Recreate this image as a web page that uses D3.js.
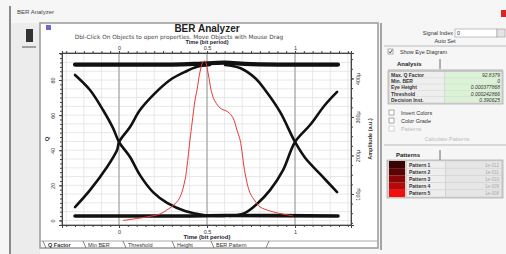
<!DOCTYPE html>
<html>
<head>
<meta charset="utf-8">
<script src="https://cdn.jsdelivr.net/npm/d3@7"></script>
<style>
  body { margin: 0; background: #f4f4f4; }
  svg text { font-family: "Liberation Sans", Arial, sans-serif; }
</style>
</head>
<body>
<svg id="chart" width="506" height="254"></svg>
<script>
// time axis
const timeTicks = [0, 0.5, 1]
const timeLabels = ['0', '0.5', '1']
// left axis (Q) and right axis (amplitude, in micro units)
const qTicks = [0, 20, 40, 60, 80]
const ampTicks = [100, 200, 300, 400]
const ampLabels = ['100µ', '200µ', '300µ', '400µ']

// Q factor vs time (red curve)
const qTime = [0.023, 0.159, 0.233, 0.273, 0.318, 0.347, 0.375, 0.386, 0.403, 0.415, 0.432, 0.443, 0.46, 0.477, 0.489, 0.506, 0.534, 0.574, 0.619, 0.648, 0.67, 0.688, 0.716, 0.744, 0.773, 0.801, 0.858, 0.898, 0.989]
const qValue = [0, 2.0, 3.7, 6.0, 9.4, 13.4, 23.1, 30.5, 45.8, 55.5, 68.6, 74.3, 84.6, 90.3, 90.8, 84.0, 70.3, 64.1, 61.8, 58.4, 51.5, 45.8, 27.0, 15.7, 11.1, 7.7, 5.4, 4.3, 2.6]

// eye diagram traces [time, amplitude µ]
const railTop = [[-0.25, 436], [0.3, 436], [0.45, 438], [0.6, 441], [0.75, 437], [1.244, 436]]
const railBottom = [[-0.25, 43], [0.4, 43], [0.6, 44], [1.244, 43]]
const fallA = [[-0.25, 409], [-0.165, 370], [-0.091, 318], [-0.034, 271], [0, 235], [0.0625, 196], [0.119, 149], [0.193, 105], [0.273, 77], [0.375, 56], [0.489, 45], [0.602, 43]]
const riseA = [[-0.25, 66], [-0.165, 110], [-0.068, 170], [-0.011, 214], [0, 235], [0.0625, 274], [0.119, 318], [0.205, 362], [0.29, 396], [0.375, 417], [0.443, 430], [0.517, 435]]
const fallB = [[0.602, 435], [0.6875, 427], [0.773, 401], [0.83, 370], [0.915, 313], [1, 235], [1.057, 194], [1.142, 152], [1.239, 105]]
const riseB = [[0.631, 43], [0.716, 51], [0.784, 74], [0.858, 110], [0.932, 162], [1, 235], [1.085, 279], [1.17, 331], [1.239, 365]]

// side panel content
const analysisLabels = ['Max. Q Factor', 'Min. BER', 'Eye Height', 'Threshold', 'Decision Inst.']
const analysisValues = ['92.8379', '0', '0.000377868', '0.000242866', '0.390625']
const optionLabels = ['Invert Colors', 'Color Grade', 'Patterns']
const patternNames = ['Pattern 1', 'Pattern 2', 'Pattern 3', 'Pattern 4', 'Pattern 5']
const patternBer = ['1e-012', '1e-011', '1e-010', '1e-009', '1e-008']
const tabNames = ['Q Factor', 'Min BER', 'Threshold', 'Height', 'BER Pattern']

const patternColors = ['#3a0303', '#5c0404', '#870606', '#b80808', '#f50c0c']

const svg = d3.select('#chart')

// ---------- window frame ----------
svg.append('rect').attr('x', 0).attr('y', 0).attr('width', 506).attr('height', 254).attr('fill', '#f6f6f6')
svg.append('rect').attr('x', 11).attr('y', 23).attr('width', 29).attr('height', 231).attr('fill', '#ececec')
svg.append('line').attr('x1', 10).attr('x2', 10).attr('y1', 6).attr('y2', 254).attr('stroke', '#666').attr('stroke-width', 1.5)
svg.append('text').attr('x', 17).attr('y', 14).attr('font-size', 6).attr('fill', '#444').text('BER Analyzer')
svg.append('rect').attr('x', 501).attr('y', 10).attr('width', 5).attr('height', 7).attr('fill', '#d22')

// icon on the left column
svg.append('rect').attr('x', 26).attr('y', 29).attr('width', 7).attr('height', 13).attr('fill', '#333')
svg.append('line').attr('x1', 22).attr('x2', 36).attr('y1', 47).attr('y2', 47).attr('stroke', '#555')

// graph panel
svg.append('rect').attr('x', 40).attr('y', 23).attr('width', 338).attr('height', 225).attr('fill', '#fff')
  .attr('stroke', '#999').attr('stroke-width', 1.5)
svg.append('rect').attr('x', 46).attr('y', 25).attr('width', 5).attr('height', 5).attr('fill', '#6a6ad0')
svg.append('line').attr('x1', 381).attr('x2', 381).attr('y1', 23).attr('y2', 250).attr('stroke', '#888').attr('stroke-width', 1.5)

// ---------- scales ----------
const x = d3.scaleLinear().domain([-0.324, 1.318]).range([62, 351])
const yQ = d3.scaleLinear().domain([-2.6, 95.4]).range([225, 53])
const yA = d3.scaleLinear().domain([19.5, 466]).range([225, 53])

const plot = svg.append('g')
plot.append('rect').attr('x', 62).attr('y', 53).attr('width', 289).attr('height', 172).attr('fill', '#fff')

// grid
plot.append('g').selectAll('line').data(d3.range(-0.3, 1.31, 0.1)).join('line')
  .attr('x1', d => x(d)).attr('x2', d => x(d)).attr('y1', 53).attr('y2', 225)
  .attr('stroke', '#e2e2e2').attr('stroke-width', 0.8)
plot.append('g').selectAll('line').data(d3.range(0, 95.5, 5)).join('line')
  .attr('y1', d => yQ(d)).attr('y2', d => yQ(d)).attr('x1', 62).attr('x2', 351)
  .attr('stroke', '#e2e2e2').attr('stroke-width', 0.8)
plot.append('g').selectAll('line').data(timeTicks).join('line')
  .attr('x1', d => x(d)).attr('x2', d => x(d)).attr('y1', 53).attr('y2', 225)
  .attr('stroke', '#8a8a8a').attr('stroke-width', 0.9)

// axes
const minorT = d3.range(-0.3, 1.31, 0.05)
const axisStyle = g => {
  g.selectAll('.domain').attr('stroke', '#444')
  g.selectAll('.tick line').attr('stroke', '#444')
  g.selectAll('text').attr('font-size', 5.5).attr('fill', '#333')
}
svg.append('g').attr('transform', 'translate(0,225)')
  .call(d3.axisBottom(x).tickValues(minorT).tickSize(2).tickFormat('').tickSizeOuter(0)).call(axisStyle)
svg.append('g').attr('transform', 'translate(0,53)')
  .call(d3.axisTop(x).tickValues(minorT).tickSize(2).tickFormat('').tickSizeOuter(0)).call(axisStyle)
svg.append('g').attr('transform', 'translate(0,225)')
  .call(d3.axisBottom(x).tickValues(timeTicks).tickSize(3).tickPadding(2).tickFormat((d, i) => timeLabels[i])).call(axisStyle)
svg.append('g').attr('transform', 'translate(0,53)')
  .call(d3.axisTop(x).tickValues(timeTicks).tickSize(2).tickPadding(1).tickFormat((d, i) => timeLabels[i])).call(axisStyle)

svg.append('g').attr('transform', 'translate(62,0)')
  .call(d3.axisLeft(yQ).tickValues(d3.range(-2.5, 95.4, 2.5)).tickSize(2).tickFormat('').tickSizeOuter(0)).call(axisStyle)
svg.append('g').attr('transform', 'translate(62,0)')
  .call(d3.axisLeft(yQ).tickValues(qTicks).tickSize(3).tickPadding(3)).call(axisStyle)
  .selectAll('text')
  .each(function () {
    d3.select(this).attr('x', null).attr('dy', null).attr('text-anchor', 'middle')
      .attr('transform', 'translate(-7,0) rotate(-90)')
  })

svg.append('g').attr('transform', 'translate(351,0)')
  .call(d3.axisRight(yA).tickValues(d3.range(25, 466, 25)).tickSize(2).tickFormat('').tickSizeOuter(0)).call(axisStyle)
svg.append('g').attr('transform', 'translate(351,0)')
  .call(d3.axisRight(yA).tickValues(ampTicks).tickSize(3).tickFormat((d, i) => ampLabels[i])).call(axisStyle)
  .selectAll('text')
  .each(function () {
    d3.select(this).attr('x', null).attr('dy', null).attr('text-anchor', 'middle')
      .attr('transform', 'translate(9,0) rotate(-90)')
  })

// titles
svg.append('text').attr('x', 207).attr('y', 32).attr('text-anchor', 'middle')
  .attr('font-size', 10).attr('font-weight', 'bold').attr('fill', '#222').text('BER Analyzer')
svg.append('text').attr('x', 179).attr('y', 38.5).attr('text-anchor', 'middle')
  .attr('font-size', 5.8).attr('fill', '#444').style('font-family', '"DejaVu Sans", sans-serif')
  .text('Dbl-Click On Objects to open properties.  Move Objects with Mouse Drag')
svg.append('text').attr('x', 207).attr('y', 44).attr('text-anchor', 'middle')
  .attr('font-size', 5.5).attr('font-weight', 'bold').attr('fill', '#223').text('Time (bit period)')
svg.append('text').attr('x', 207).attr('y', 239).attr('text-anchor', 'middle')
  .attr('font-size', 6).attr('font-weight', 'bold').attr('fill', '#223').text('Time (bit period)')
svg.append('text').attr('transform', 'translate(49,139) rotate(-90)').attr('text-anchor', 'middle')
  .attr('font-size', 6).attr('font-weight', 'bold').attr('fill', '#333').text('Q')
svg.append('text').attr('transform', 'translate(372,139) rotate(-90)').attr('text-anchor', 'middle')
  .attr('font-size', 5.5).attr('font-weight', 'bold').attr('fill', '#333').text('Amplitude (a.u.)')

// plot frame
plot.append('rect').attr('x', 62).attr('y', 53).attr('width', 289).attr('height', 172)
  .attr('fill', 'none').attr('stroke', '#555').attr('stroke-width', 0.8)

// ---------- eye traces ----------
const eyeLine = d3.line().x(d => x(d[0])).y(d => yA(d[1])).curve(d3.curveCatmullRom)
const traces = svg.append('g').attr('fill', 'none').attr('stroke', '#111').attr('stroke-linecap', 'round')
traces.append('path').datum(railTop).attr('d', eyeLine).attr('stroke-width', 4.2)
traces.append('path').datum(railBottom).attr('d', eyeLine).attr('stroke-width', 3.6)
for (const tr of [fallA, riseA, fallB, riseB]) {
  traces.append('path').datum(tr).attr('d', eyeLine).attr('stroke-width', 2.6)
}

// Q factor curve
const qLine = d3.line().x((d, i) => x(qTime[i])).y(d => yQ(d)).curve(d3.curveCatmullRom)
svg.append('path').datum(qValue).attr('d', qLine)
  .attr('fill', 'none').attr('stroke', '#e8393a').attr('stroke-width', 1)

// ---------- bottom tabs ----------
svg.append('line').attr('x1', 40).attr('x2', 378).attr('y1', 241).attr('y2', 241).attr('stroke', '#aaa')
const tabX = [48, 88, 128, 177, 216]
const tabs = svg.append('g')
tabNames.forEach((t, i) => {
  tabs.append('text').attr('x', tabX[i]).attr('y', 247).attr('font-size', 5.5)
    .attr('font-weight', i === 0 ? 'bold' : 'normal').attr('fill', '#333').text(t)
  tabs.append('line').attr('x1', tabX[i] - 5).attr('x2', tabX[i] - 2).attr('y1', 241).attr('y2', 248)
    .attr('stroke', '#555').attr('stroke-width', 0.7)
})
tabs.append('line').attr('x1', 266).attr('x2', 269).attr('y1', 248).attr('y2', 241).attr('stroke', '#555').attr('stroke-width', 0.7)

// ---------- right panel ----------
const side = svg.append('g')
const fs = 5.5
side.append('text').attr('x', 453).attr('y', 35).attr('text-anchor', 'end').attr('font-size', fs).attr('fill', '#333').text('Signal Index')
side.append('rect').attr('x', 455).attr('y', 29).attr('width', 42).attr('height', 8).attr('fill', '#fff').attr('stroke', '#999').attr('stroke-width', 0.6)
side.append('text').attr('x', 457).attr('y', 35).attr('font-size', fs).attr('fill', '#333').text('0')
side.append('rect').attr('x', 497).attr('y', 29).attr('width', 8).attr('height', 8).attr('fill', '#e4e4e4').attr('stroke', '#999').attr('stroke-width', 0.6)
side.append('text').attr('x', 445).attr('y', 43).attr('text-anchor', 'middle').attr('font-size', fs).attr('fill', '#333').text('Auto Set')
side.append('line').attr('x1', 384).attr('x2', 506).attr('y1', 46).attr('y2', 46).attr('stroke', '#bbb')

const checkBox = (cx, cy, checked, label, gray) => {
  side.append('rect').attr('x', cx).attr('y', cy - 5).attr('width', 5).attr('height', 5)
    .attr('fill', '#fff').attr('stroke', gray ? '#bbb' : '#777').attr('stroke-width', 0.6)
  if (checked) {
    side.append('path').attr('d', `M${cx + 1},${cy - 2.5} L${cx + 2.2},${cy - 1} L${cx + 4.2},${cy - 4}`)
      .attr('fill', 'none').attr('stroke', '#222').attr('stroke-width', 0.8)
  }
  side.append('text').attr('x', cx + 12).attr('y', cy).attr('font-size', fs)
    .attr('fill', gray ? '#bbb' : '#333').text(label)
}
checkBox(388, 54, true, 'Show Eye Diagram', false)

// Analysis tab + table
side.append('text').attr('x', 397).attr('y', 66).attr('font-size', 6).attr('font-weight', 'bold').attr('fill', '#222').text('Analysis')
side.append('line').attr('x1', 440).attr('x2', 440).attr('y1', 59).attr('y2', 69).attr('stroke', '#444').attr('stroke-width', 0.8)
side.append('line').attr('x1', 388).attr('x2', 503).attr('y1', 70).attr('y2', 70).attr('stroke', '#888').attr('stroke-width', 0.6)
const rowY = d3.scaleBand().domain(d3.range(analysisLabels.length)).range([72, 103])
side.append('rect').attr('x', 388).attr('y', 71).attr('width', 115).attr('height', 33).attr('fill', '#d9d9d9').attr('stroke', '#999').attr('stroke-width', 0.6)
analysisLabels.forEach((l, i) => {
  side.append('rect').attr('x', 390).attr('y', rowY(i)).attr('width', 54).attr('height', rowY.bandwidth() - 0.6).attr('fill', '#eeeeee')
  side.append('rect').attr('x', 445).attr('y', rowY(i)).attr('width', 56).attr('height', rowY.bandwidth() - 0.6).attr('fill', '#dcf2d6')
  side.append('text').attr('x', 391).attr('y', rowY(i) + 5).attr('font-size', 5).attr('font-weight', 'bold').attr('fill', '#333').text(l)
  side.append('text').attr('x', 500).attr('y', rowY(i) + 5).attr('text-anchor', 'end').attr('font-size', 5).attr('font-style', 'italic').attr('fill', '#333').text(analysisValues[i])
})

optionLabels.forEach((l, i) => checkBox(389, 115 + i * 8, false, l, i === 2))
side.append('text').attr('x', 447).attr('y', 141).attr('text-anchor', 'middle').attr('font-size', fs).attr('fill', '#bbb').text('Calculate Patterns')
side.append('line').attr('x1', 384).attr('x2', 506).attr('y1', 145).attr('y2', 145).attr('stroke', '#bbb')

// Patterns tab + list
side.append('text').attr('x', 396).attr('y', 157).attr('font-size', 6).attr('font-weight', 'bold').attr('fill', '#222').text('Patterns')
side.append('line').attr('x1', 440).attr('x2', 440).attr('y1', 150).attr('y2', 160).attr('stroke', '#444').attr('stroke-width', 0.8)
const patY = d3.scaleBand().domain(d3.range(patternNames.length)).range([161, 197])
side.append('rect').attr('x', 387).attr('y', 160).attr('width', 116).attr('height', 38).attr('fill', '#d4d4d4').attr('stroke', '#999').attr('stroke-width', 0.6)
patternNames.forEach((p, i) => {
  side.append('rect').attr('x', 389).attr('y', patY(i)).attr('width', 16).attr('height', patY.bandwidth()).attr('fill', patternColors[i])
  side.append('rect').attr('x', 407).attr('y', patY(i) + 0.4).attr('width', 38).attr('height', patY.bandwidth() - 0.8).attr('fill', '#eee')
  side.append('rect').attr('x', 446).attr('y', patY(i) + 0.4).attr('width', 55).attr('height', patY.bandwidth() - 0.8).attr('fill', '#e6e6e6')
  side.append('text').attr('x', 409).attr('y', patY(i) + 5.6).attr('font-size', 5).attr('font-weight', 'bold').attr('fill', '#333').text(p)
  side.append('text').attr('x', 499).attr('y', patY(i) + 5.6).attr('text-anchor', 'end').attr('font-size', 4.5).attr('fill', '#aaa').text(patternBer[i])
})
</script>
</body>
</html>
